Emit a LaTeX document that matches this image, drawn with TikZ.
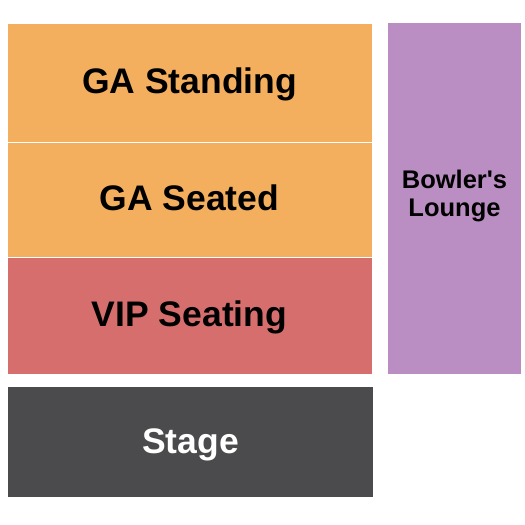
\documentclass[tikz,border=0pt]{standalone}
\usepackage{fontspec}
\setmainfont{Liberation Sans}
\usepackage{tikz}
\usetikzlibrary{positioning}

\definecolor{gaorange}{HTML}{F3AE5E}
\definecolor{viprose}{HTML}{D66E6E}
\definecolor{stagegray}{HTML}{4B4A4D}
\definecolor{loungeviolet}{HTML}{BB8EC3}

\begin{document}
\begin{tikzpicture}[x=1pt, y=-1pt,
  section/.style={draw=white, line width=0.8pt, inner sep=0pt, font=\fontsize{35.5}{40}\selectfont\bfseries, text height=25.4pt, text depth=3pt, minimum width=365pt},
  lounge/.style={inner sep=0pt, font=\fontsize{25.5}{28.7}\selectfont\bfseries, align=center}]
\useasboundingbox (0,0) rectangle (525,525);
\node[section, fill=gaorange, minimum height=119pt] (standing) at (189.5,82.5) {GA Standing};
\node[section, fill=gaorange, minimum height=115pt] (seated) at (189.5,199.5) {GA Seated};
\node[section, fill=viprose, minimum height=117pt] (vip) at (189.5,315.5) {VIP Seating};
\node[section, draw=none, fill=stagegray, text=white, minimum height=110pt] (stage) at (190.5,442) {Stage};
\node[fill=loungeviolet, minimum width=133pt, minimum height=351pt, inner sep=0pt] (bowlers) at (454.5,198.5) {};
\node[lounge] (bowlerslabel) at (454.5,196) {Bowler\textquotesingle s\\Lounge};
\end{tikzpicture}
\end{document}
